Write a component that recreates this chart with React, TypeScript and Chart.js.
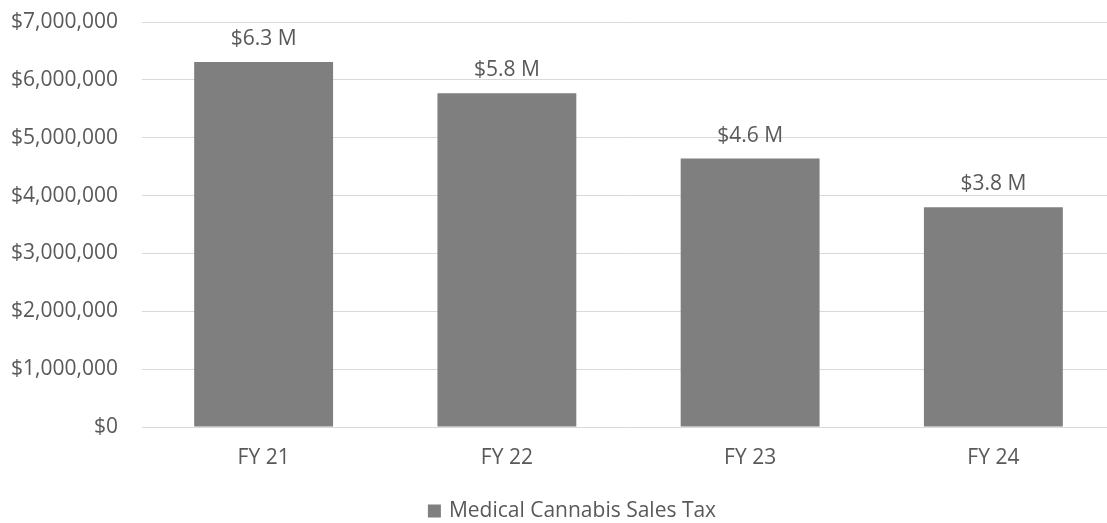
import React, { useEffect, useRef } from "react";
import { Chart, registerables } from "chart.js";

Chart.register(...registerables);

const categories = ["FY 21", "FY 22", "FY 23", "FY 24"];
const salesTax = [6310000, 5770000, 4640000, 3800000];
const seriesName = "Medical Cannabis Sales Tax";
const yTicks = [0, 1000000, 2000000, 3000000, 4000000, 5000000, 6000000, 7000000];

const FONT = "'Open Sans', sans-serif";
const TEXT = "#595959";
const BAR = "#7f7f7f";

const dataLabelPlugin = {
  id: "dataLabels",
  afterDatasetsDraw(chart: any) {
    const ctx = chart.ctx;
    const meta = chart.getDatasetMeta(0);
    ctx.save();
    ctx.font = `21px ${FONT}`;
    ctx.fillStyle = TEXT;
    ctx.textAlign = "center";
    ctx.textBaseline = "alphabetic";
    meta.data.forEach((bar: any, i: number) => {
      const v = salesTax[i];
      ctx.fillText(`$${(v / 1e6).toFixed(1)} M`, bar.x, bar.y - 17);
    });
    ctx.restore();
  },
};

const bottomLegendPlugin = {
  id: "bottomLegend",
  afterDraw(chart: any) {
    const ctx = chart.ctx;
    const ds = chart.data.datasets[0];
    ctx.save();
    ctx.font = `21px ${FONT}`;
    const tw = ctx.measureText(ds.label).width;
    const box = 13;
    const gap = 8;
    const total = box + gap + tw;
    const x0 = chart.width / 2 - total / 2;
    const cy = chart.height - 12;
    ctx.fillStyle = ds.backgroundColor;
    ctx.fillRect(x0, cy - box / 2, box, box);
    ctx.fillStyle = TEXT;
    ctx.textAlign = "left";
    ctx.textBaseline = "middle";
    ctx.fillText(ds.label, x0 + box + gap, cy);
    ctx.restore();
  },
};

export default function App() {
  const ref = useRef<HTMLCanvasElement>(null);
  useEffect(() => {
    if (!ref.current) return;
    const chart = new Chart(ref.current, {
      type: "bar",
      data: {
        labels: categories,
        datasets: [
          {
            label: seriesName,
            data: salesTax,
            backgroundColor: BAR,
            borderWidth: 0,
            barPercentage: 0.571,
            categoryPercentage: 1,
          },
        ],
      },
      options: {
        animation: false,
        responsive: false,
        maintainAspectRatio: false,
        layout: { padding: { top: 22, bottom: 53, left: 0, right: 29 } },
        plugins: {
          tooltip: { enabled: false },
          legend: { display: false },
        },
        scales: {
          x: {
            afterFit(scale: any) {
              scale.height = 43;
            },
            grid: { display: false, drawTicks: false },
            border: { display: false },
            ticks: { color: TEXT, font: { family: FONT, size: 21 }, padding: 18 },
          },
          y: {
            min: 0,
            max: 7000000,
            afterFit(scale: any) {
              scale.width = 142;
              scale.paddingTop = 0;
              scale.paddingBottom = 0;
            },
            afterBuildTicks(scale: any) {
              scale.ticks = yTicks.map((v) => ({ value: v }));
            },
            grid: { color: "#d9d9d9", lineWidth: 1, drawTicks: false },
            border: { display: false },
            ticks: {
              color: TEXT,
              font: { family: FONT, size: 21 },
              padding: 24,
              callback: (v: any) => "$" + Number(v).toLocaleString("en-US"),
            },
          },
        },
      },
      plugins: [dataLabelPlugin, bottomLegendPlugin],
    });
    return () => chart.destroy();
  }, []);
  return (
    <div style={{ position: "fixed", left: 0, top: 0, width: 1107, height: 523, overflow: "hidden", background: "#fff" }}>
      <div style={{ width: 1144, height: 523 }}>
        <canvas ref={ref} width={1144} height={523} style={{ display: "block" }} />
      </div>
    </div>
  );
}
